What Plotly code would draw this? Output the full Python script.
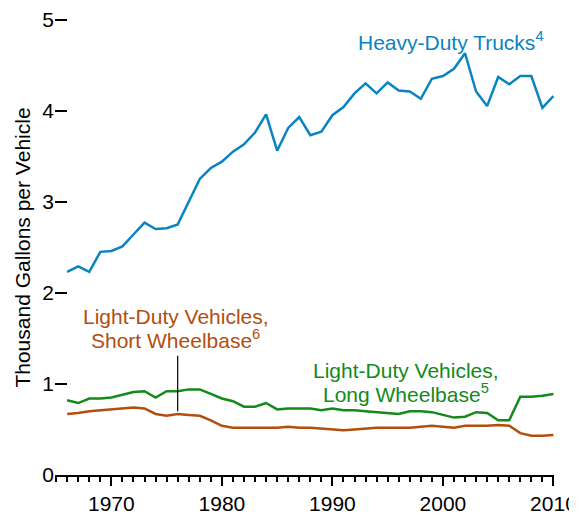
import plotly.graph_objects as go

years = list(range(1966, 2011))

heavy_duty_trucks = [2.23, 2.29, 2.23, 2.45, 2.46, 2.51, 2.64, 2.77, 2.70, 2.71,
                     2.75, 3.00, 3.25, 3.37, 3.44, 3.55, 3.63, 3.76, 3.96, 3.56,
                     3.81, 3.93, 3.73, 3.77, 3.95, 4.04, 4.19, 4.30, 4.19, 4.31,
                     4.22, 4.21, 4.13, 4.35, 4.38, 4.46, 4.63, 4.21, 4.05, 4.37,
                     4.29, 4.38, 4.38, 4.03, 4.16]

ldv_long = [0.82, 0.79, 0.84, 0.84, 0.85, 0.88, 0.91, 0.92, 0.85, 0.92,
            0.92, 0.94, 0.94, 0.89, 0.84, 0.81, 0.75, 0.75, 0.79, 0.72,
            0.73, 0.73, 0.73, 0.71, 0.73, 0.71, 0.71, 0.70, 0.69, 0.68,
            0.67, 0.70, 0.70, 0.69, 0.66, 0.63, 0.64, 0.69, 0.68, 0.60,
            0.60, 0.86, 0.86, 0.87, 0.89]

ldv_short = [0.67, 0.68, 0.70, 0.71, 0.72, 0.73, 0.74, 0.73, 0.67, 0.65,
             0.67, 0.66, 0.65, 0.60, 0.54, 0.52, 0.52, 0.52, 0.52, 0.52,
             0.53, 0.52, 0.52, 0.51, 0.50, 0.49, 0.50, 0.51, 0.52, 0.52,
             0.52, 0.52, 0.53, 0.54, 0.53, 0.52, 0.54, 0.54, 0.54, 0.55,
             0.54, 0.46, 0.43, 0.43, 0.44]

y_ticks = [0, 1, 2, 3, 4, 5]
x_ticks = [1970, 1980, 1990, 2000, 2010]

BLUE = "#0a84c0"
GREEN = "#138a1a"
BROWN = "#b24e0e"
FONT = "Liberation Sans, Arial, sans-serif"

fig = go.Figure()
fig.add_trace(go.Scatter(x=years, y=heavy_duty_trucks, mode="lines",
                         line=dict(color=BLUE, width=2.5), name="Heavy-Duty Trucks"))
fig.add_trace(go.Scatter(x=years, y=ldv_long, mode="lines",
                         line=dict(color=GREEN, width=2.5), name="LDV Long"))
fig.add_trace(go.Scatter(x=years, y=ldv_short, mode="lines",
                         line=dict(color=BROWN, width=2.5), name="LDV Short"))

fig.add_shape(type="line", x0=1976, x1=1976, y0=0.70, y1=1.31,
              line=dict(color="black", width=1.2))

def ann(x, y, text, color):
    fig.add_annotation(x=x, y=y, text=text, showarrow=False,
                       font=dict(family=FONT, size=21, color=color),
                       xanchor="center", yanchor="middle")

ann(2000.7, 4.76, "Heavy-Duty Trucks<sup>4</sup>", BLUE)
ann(1975.84, 1.74, "Light-Duty Vehicles,", BROWN)
ann(1975.84, 1.49, "Short Wheelbase<sup>6</sup>", BROWN)
ann(1996.64, 1.15, "Light-Duty Vehicles,", GREEN)
ann(1996.64, 0.90, "Long Wheelbase<sup>5</sup>", GREEN)

fig.add_annotation(xref="paper", yref="paper", x=-0.066, y=0.4945,
                   text="Thousand Gallons per Vehicle", textangle=-90,
                   showarrow=False, xanchor="center", yanchor="middle",
                   font=dict(family=FONT, size=21, color="black"))

fig.update_layout(
    width=577, height=506,
    margin=dict(l=47, r=31, t=7.45, b=39, autoexpand=False),
    plot_bgcolor="white", paper_bgcolor="white",
    showlegend=False,
    font=dict(family=FONT, size=21, color="black"),
    xaxis=dict(range=[1964.9, 2010.05], showgrid=False, zeroline=False,
               showline=True, linecolor="black", linewidth=2,
               ticks="outside", tickvals=x_ticks, ticklen=9, tickwidth=2,
               tickcolor="black", automargin=False, ticklabeloverflow="allow",
               minor=dict(dtick=1, tick0=1966, ticks="outside", ticklen=5,
                          tickwidth=1.5, tickcolor="black", showgrid=False),
               tickfont=dict(family=FONT, size=21, color="black")),
    yaxis=dict(range=[0, 5.05], showgrid=False, zeroline=False, showline=False,
               ticks="inside", tickvals=y_ticks, ticklen=12, tickwidth=2,
               tickcolor="black", automargin=False, ticklabeloverflow="allow",
               tickfont=dict(family=FONT, size=21, color="black")),
)

fig.write_html("out.html")
